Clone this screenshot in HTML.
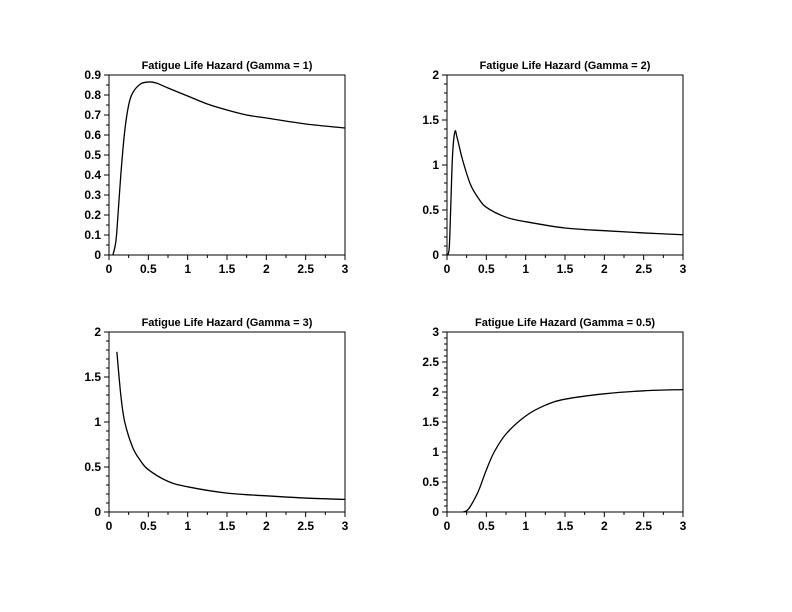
<!DOCTYPE html>
<html><head><meta charset="utf-8"><style>
body{margin:0;background:#fff}
svg{display:block;font-family:"Liberation Sans",sans-serif}
text{font-weight:bold;fill:#000}
</style></head><body>
<svg id="c" width="792" height="612" viewBox="0 0 792 612" xmlns="http://www.w3.org/2000/svg"></svg>
<script>
const titles=["Fatigue Life Hazard (Gamma = 1)","Fatigue Life Hazard (Gamma = 2)","Fatigue Life Hazard (Gamma = 3)","Fatigue Life Hazard (Gamma = 0.5)"];
const xTicks=[0,0.5,1,1.5,2,2.5,3];
const yTicks1=[0,0.1,0.2,0.3,0.4,0.5,0.6,0.7,0.8,0.9];
const yTicks2=[0,0.5,1,1.5,2];
const yTicks3=[0,0.5,1,1.5,2];
const yTicks4=[0,0.5,1,1.5,2,2.5,3];
const xs1=[0.05,0.08,0.1,0.15,0.2,0.25,0.3,0.4,0.5,0.6,0.75,1,1.25,1.5,1.75,2,2.5,3];
const ys1=[0,0.05,0.12,0.4,0.62,0.75,0.81,0.855,0.865,0.86,0.835,0.795,0.755,0.725,0.70,0.685,0.655,0.635];
const xs2=[0.01,0.03,0.05,0.07,0.1,0.13,0.2,0.3,0.4,0.5,0.75,1,1.5,2,2.5,3];
const ys2=[0,0.1,0.6,1.1,1.37,1.3,1.05,0.78,0.63,0.53,0.42,0.37,0.3,0.27,0.245,0.225];
const xs3=[0.1,0.15,0.2,0.3,0.4,0.5,0.75,1,1.5,2,2.5,3];
const ys3=[1.78,1.3,1.0,0.72,0.57,0.47,0.34,0.28,0.21,0.18,0.155,0.14];
const xs4=[0.2,0.25,0.3,0.4,0.5,0.6,0.75,1,1.25,1.5,2,2.5,3];
const ys4=[0,0.02,0.1,0.35,0.7,1.0,1.3,1.6,1.78,1.88,1.97,2.02,2.04];
const panels=[
 {x0:109,x1:345,y0:75,y1:255,yt:yTicks1,xs:xs1,ys:ys1,minor:1},
 {x0:447,x1:683,y0:75,y1:255,yt:yTicks2,xs:xs2,ys:ys2,minor:4},
 {x0:109,x1:345,y0:332,y1:512,yt:yTicks3,xs:xs3,ys:ys3,minor:4},
 {x0:447,x1:683,y0:332,y1:512,yt:yTicks4,xs:xs4,ys:ys4,minor:4}];
const svg=document.getElementById('c');
const NS="http://www.w3.org/2000/svg";
function mk(t,a,p){const e=document.createElementNS(NS,t);for(const k in a)e.setAttribute(k,a[k]);p.appendChild(e);return e;}
panels.forEach((P,i)=>{
 const g=mk('g',{},svg);
 
 
 const ymax=P.yt[P.yt.length-1];
 const sx=v=>P.x0+(v-0)/3*(P.x1-P.x0);
 const sy=v=>P.y1-v/ymax*(P.y1-P.y0);
 const r=mk('rect',{x:P.x0,y:P.y0,width:P.x1-P.x0,height:P.y1-P.y0,fill:'none',stroke:'#000','stroke-width':1},g);
 
 
 const t=mk('text',{x:(P.x0+P.x1)/2,y:P.y0-6,'text-anchor':'middle','font-size':11},g);
 t.textContent=titles[i];
 
 
 for(let k=0;k<xTicks.length;k++){
  const v=xTicks[k],X=sx(v);
  mk('line',{x1:X,x2:X,y1:P.y1,y2:P.y1+5,stroke:'#000'},g);
  if(k<xTicks.length-1){const m=sx(v+0.25);mk('line',{x1:m,x2:m,y1:P.y1,y2:P.y1+3,stroke:'#000'},g);}
  const l=mk('text',{x:X,y:P.y1+18,'text-anchor':'middle','font-size':12},g);
  l.textContent=v;
  
  
 }
 for(let k=0;k<P.yt.length;k++){
  const v=P.yt[k],Y=sy(v);
  mk('line',{x1:P.x0-5,x2:P.x0,y1:Y,y2:Y,stroke:'#000'},g);
  if(k<P.yt.length-1){const step=(P.yt[k+1]-v);for(let j=1;j<=P.minor;j++){const m=sy(v+step*j/(P.minor+1));mk('line',{x1:P.x0-3,x2:P.x0,y1:m,y2:m,stroke:'#000'},g);}}
  const l=mk('text',{x:P.x0-8,y:Y+4,'text-anchor':'end','font-size':12},g);
  l.textContent=v;
  
  
 }
 const pts=P.xs.map((x,k)=>[sx(x),sy(P.ys[k])]);
 let d='M'+pts[0][0]+','+pts[0][1];
 for(let k=0;k<pts.length-1;k++){
  const p0=pts[Math.max(k-1,0)],p1=pts[k],p2=pts[k+1],p3=pts[Math.min(k+2,pts.length-1)];
  const c1=[p1[0]+(p2[0]-p0[0])/6,p1[1]+(p2[1]-p0[1])/6],c2=[p2[0]-(p3[0]-p1[0])/6,p2[1]-(p3[1]-p1[1])/6];
  d+=' C'+c1+' '+c2+' '+p2;
 }
 const c=mk('path',{d:d,fill:'none',stroke:'#000','stroke-width':1.3},g);
 
 
});
</script>
</body></html>
